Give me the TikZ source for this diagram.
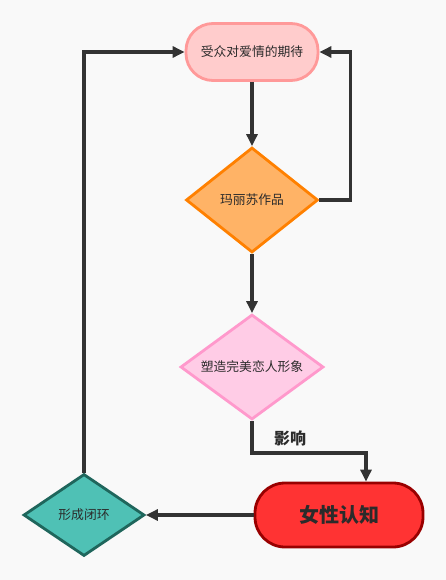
\documentclass[tikz,border=0pt]{standalone}
\usepackage{fontspec}
\setmainfont{Noto Sans CJK SC}
\usepackage{tikz}
\usetikzlibrary{shapes.geometric,arrows.meta,positioning}

\definecolor{bgGray}{HTML}{F9F9F9}
\definecolor{lineGray}{HTML}{333333}
\definecolor{textGray}{HTML}{2B2B2B}

\begin{document}
\begin{tikzpicture}[
  on grid,
  x=1pt,y=1pt,
  >={Triangle[length=12pt,width=11pt]},
  every node/.style={text=textGray,font=\fontsize{12.8pt}{15pt}\selectfont,inner sep=0pt},
  flow/.style={draw=lineGray,line width=3.5pt,->},
  terminal/.style={rectangle,line width=2.8pt},
  decision/.style={diamond,line width=2.8pt}
  ]

  \fill[bgGray] (0,0) rectangle (446,-580);

  \node[terminal,draw={rgb,255:red,255;green,153;blue,153},
    fill={rgb,255:red,255;green,204;blue,204},
    minimum width=132pt,minimum height=57pt,rounded corners=27pt]
    (expect) at (252,-52) {受众对爱情的期待};
  \node[decision,draw={rgb,255:red,255;green,128;blue,0},
    fill={rgb,255:red,255;green,179;blue,102},aspect=1.26,
    minimum width=132pt,minimum height=105pt]
    (works) [below=148pt of expect] {玛丽苏作品};
  \node[decision,draw={rgb,255:red,255;green,153;blue,204},
    fill={rgb,255:red,255;green,204;blue,230},aspect=1.36,
    minimum width=143pt,minimum height=105pt]
    (image) [below=167pt of works] {塑造完美恋人形象};
  \node[terminal,draw={rgb,255:red,153;green,0;blue,0},
    fill={rgb,255:red,255;green,51;blue,51},
    minimum width=168pt,minimum height=64pt,rounded corners=30pt,
    font=\fontsize{20pt}{23pt}\selectfont\bfseries]
    (cognition) [below right=148pt and 87pt of image] {女性认知};
  \node[decision,draw={rgb,255:red,31;green,102;blue,92},
    fill={rgb,255:red,79;green,193;blue,181},aspect=1.48,
    minimum width=121pt,minimum height=82pt]
    (loop) [left=255pt of cognition] {形成闭环};

  \coordinate (turn) at (366,-453);

  \draw[flow] (expect) -- (works);
  \draw[flow] (works.east) -- ++(31,0) |- (expect.east);
  \draw[flow] (works) -- (image);
  \draw[flow] (image.south) |- (turn) -- (turn |- cognition.north);
  \draw[flow] (cognition) -- (loop);
  \draw[flow] (loop.north) |- (expect.west);

  \node[font=\fontsize{16pt}{18pt}\selectfont\bfseries] (effect) at (290,-438) {影响};
\end{tikzpicture}
\end{document}
